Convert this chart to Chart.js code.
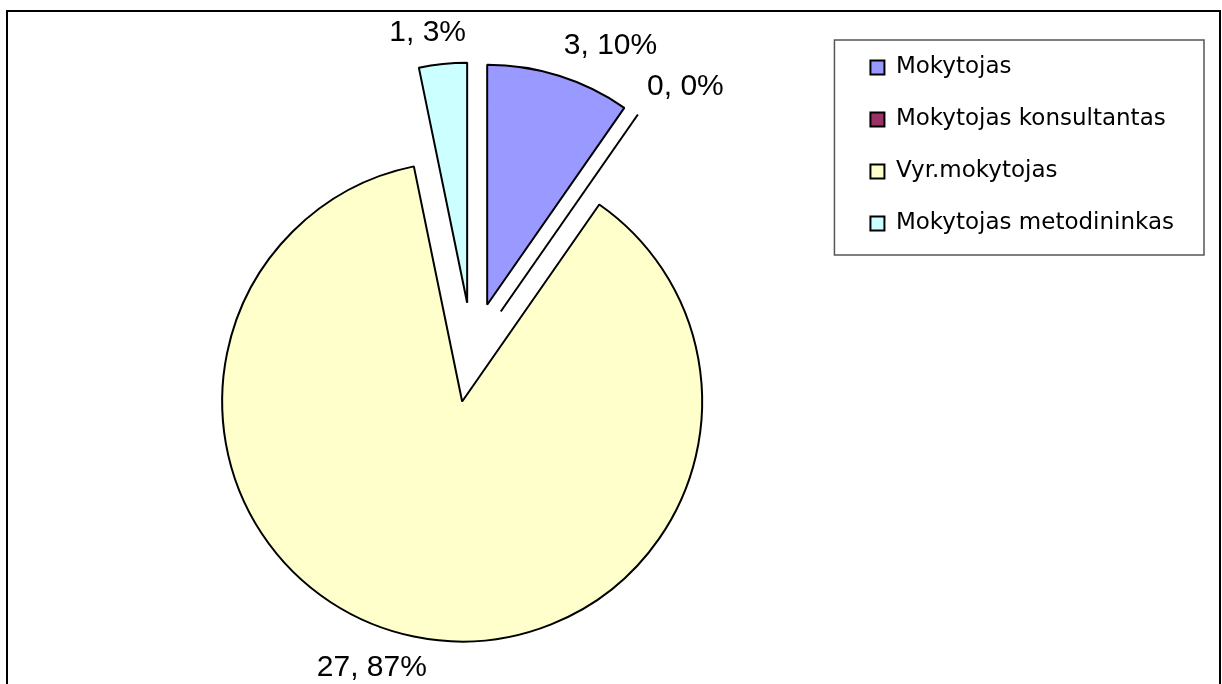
<!DOCTYPE html>
<html lang="lt">
<head>
<meta charset="utf-8">
<title>Mokytojų kvalifikacinės kategorijos</title>
<script src="https://cdn.jsdelivr.net/npm/chart.js"></script>
<style>
  html, body { margin: 0; padding: 0; background: #fff; overflow: hidden; }
  #frame { position: absolute; left: 6px; top: 10px; width: 1211px; height: 700px; border: 2px solid #000; border-bottom: none; }
  #wrap { position: absolute; left: 0; top: 0; width: 1222px; height: 684px; }
</style>
</head>
<body>
<div id="frame"></div>
<div id="wrap"><canvas id="pie"></canvas></div>

<script>
// data
const categories = ['Mokytojas', 'Mokytojas konsultantas', 'Vyr.mokytojas', 'Mokytojas metodininkas'];
const counts = [3, 0, 27, 1];
const sliceColors = ['#9999FF', '#993366', '#FFFFCC', '#CCFFFF'];

// pulls every slice out from the centre, zero slices become a single line
const explodePlugin = {
  id: 'explode',
  beforeDatasetDraw(chart, args, opts) {
    const ctx = chart.ctx;
    const d = opts.distance;
    args.meta.data.forEach(arc => {
      const mid = (arc.startAngle + arc.endAngle) / 2;
      const dx = Math.cos(mid) * d, dy = Math.sin(mid) * d;
      ctx.save();
      if (arc.circumference > 0) {
        ctx.translate(dx, dy);
        arc.draw(ctx);
      } else {
        ctx.strokeStyle = arc.options.borderColor;
        ctx.lineWidth = arc.options.borderWidth;
        ctx.beginPath();
        ctx.moveTo(arc.x + dx, arc.y + dy);
        ctx.lineTo(arc.x + dx + Math.cos(mid) * arc.outerRadius, arc.y + dy + Math.sin(mid) * arc.outerRadius);
        ctx.stroke();
      }
      ctx.restore();
    });
    return false;
  }
};

// "value, percent" labels outside each slice
const outsideLabels = {
  id: 'outsideLabels',
  afterDatasetsDraw(chart, args, opts) {
    const ctx = chart.ctx;
    const meta = chart.getDatasetMeta(0);
    const values = chart.data.datasets[0].data;
    const total = values.reduce((a, b) => a + b, 0);
    const d = chart.options.plugins.explode.distance;
    const clamp = v => Math.max(-1, Math.min(1, v));
    ctx.save();
    ctx.font = opts.font;
    ctx.fillStyle = '#000';
    ctx.textAlign = 'center';
    ctx.textBaseline = 'middle';
    meta.data.forEach((arc, i) => {
      const mid = (arc.startAngle + arc.endAngle) / 2;
      const ux = Math.cos(mid), uy = Math.sin(mid);
      const px = arc.x + ux * (d + arc.outerRadius);
      const py = arc.y + uy * (d + arc.outerRadius);
      const text = values[i] + ', ' + Math.round(values[i] / total * 100) + '%';
      const w = ctx.measureText(text).width;
      const h = opts.height;
      const x = px + ux * opts.gap + w / 2 * clamp(ux * 3.5);
      const y = py + uy * opts.gap + h / 2 * clamp(uy * 3.5);
      ctx.fillText(text, x, y);
    });
    ctx.restore();
  }
};

// grey frame round the legend
const legendFrame = {
  id: 'legendFrame',
  afterDraw(chart, args, opts) {
    const boxes = chart.legend.legendHitBoxes;
    if (!boxes || !boxes.length) return;
    const left = Math.min(...boxes.map(b => b.left)) - opts.padLeft;
    const right = Math.max(...boxes.map(b => b.left + b.width)) + opts.padRight;
    const top = Math.min(...boxes.map(b => b.top)) - opts.padTop;
    const bottom = Math.max(...boxes.map(b => b.top + b.height)) + opts.padBottom;
    const ctx = chart.ctx;
    ctx.save();
    ctx.strokeStyle = '#555';
    ctx.lineWidth = 1.5;
    ctx.strokeRect(left, top, right - left, bottom - top);
    ctx.restore();
  }
};

new Chart(document.getElementById('pie'), {
  type: 'pie',
  data: {
    labels: categories,
    datasets: [{
      data: counts,
      backgroundColor: sliceColors,
      borderColor: '#000',
      borderWidth: 2
    }]
  },
  plugins: [explodePlugin, outsideLabels, legendFrame],
  options: {
    responsive: true,
    maintainAspectRatio: false,
    animation: false,
    events: [],
    radius: 240,
    layout: {
      padding: { left: 103, right: 38, top: 27, bottom: 6 }
    },
    plugins: {
      explode: { distance: 50 },
      outsideLabels: { font: '30px "Liberation Sans", Arial, sans-serif', height: 30, gap: 16 },
      legendFrame: { padLeft: 36, padRight: 30, padTop: 16, padBottom: 20 },
      tooltip: { enabled: false },
      legend: {
        position: 'right',
        align: 'start',
        labels: {
          color: '#000',
          boxWidth: 14,
          boxHeight: 14,
          padding: 29,
          font: { family: '"DejaVu Sans", sans-serif', size: 23 }
        }
      }
    }
  }
});
</script>
</body>
</html>
